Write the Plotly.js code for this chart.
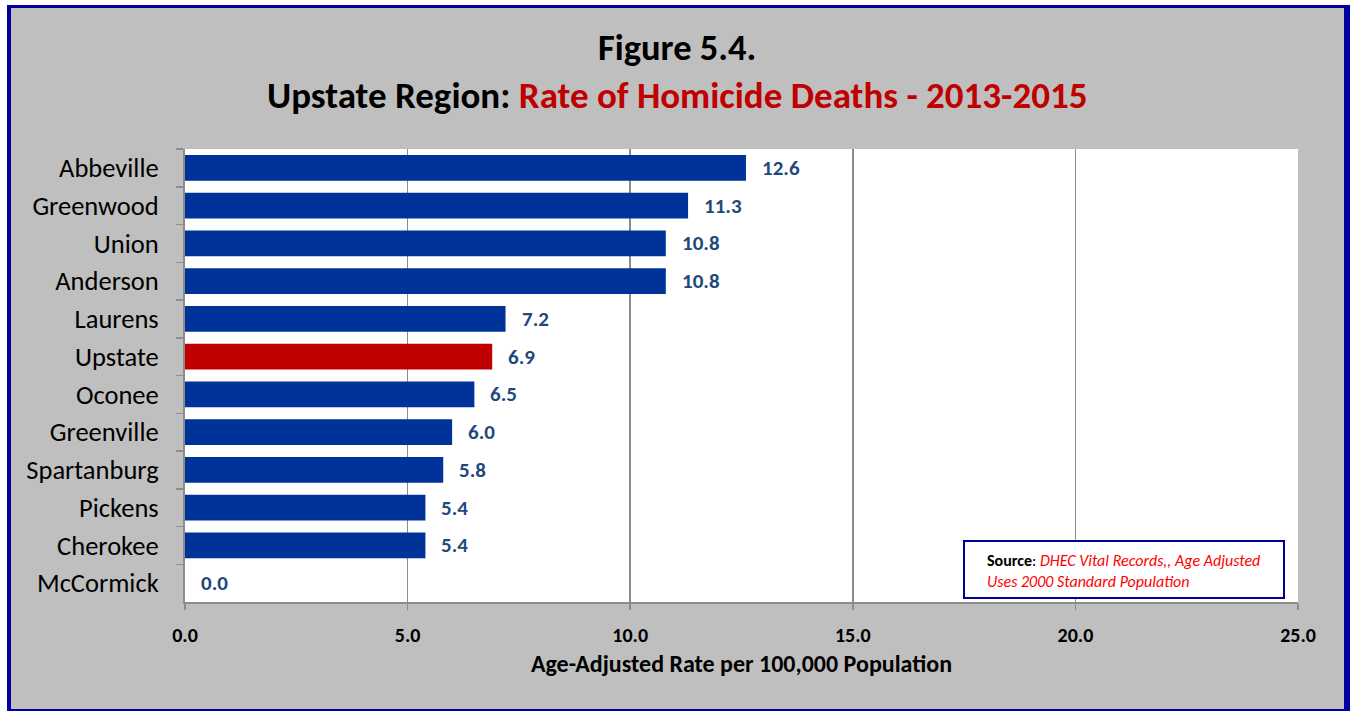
<!DOCTYPE html>
<html>
<head>
<meta charset="utf-8">
<script src="https://cdn.plot.ly/plotly-3.0.1.min.js"></script>
<style>
html,body{margin:0;padding:0;background:#ffffff;}
#wrap{position:relative;width:1354px;height:711px;overflow:hidden;}
#frame{position:absolute;left:7px;top:5px;width:1343px;height:706px;background:#BFBFBF;
  border-style:solid;border-color:#0000A0;border-width:3px 6px 2px 4px;box-sizing:border-box;}
#chart{position:absolute;left:0;top:0;width:1354px;height:711px;}
</style>
</head>
<body>
<div id="wrap"><div id="frame"></div><div id="chart"></div></div>
<script>
const categories = ["Abbeville","Greenwood","Union","Anderson","Laurens","Upstate","Oconee","Greenville","Spartanburg","Pickens","Cherokee","McCormick"];
const rates = [12.6, 11.3, 10.8, 10.8, 7.2, 6.9, 6.5, 6.0, 5.8, 5.4, 5.4, 0.0];
const xTicks = [0, 5, 10, 15, 20, 25];
const xTickLabels = ["0.0","5.0","10.0","15.0","20.0","25.0"];

const FONT = "Carlito, Calibri, Lato, 'Open Sans', sans-serif";
const ML = 185, MR = 56, MT = 149, MB = 109;
const PW = 1354 - ML - MR, PH = 711 - MT - MB;
const px = x => (x - ML) / PW;
const py = y => (711 - MB - y) / PH;

const barColors = categories.map(c => c === "Upstate" ? "#C00000" : "#003399");

const trace = {
  type: "bar",
  orientation: "h",
  y: categories,
  x: rates,
  marker: {color: barColors, line: {width: 0}},
  width: 0.68,
  hoverinfo: "x+y"
};

const valueAnnotations = categories.map((c, i) => ({
  x: rates[i], y: c, xref: "x", yref: "y",
  text: rates[i].toFixed(1),
  showarrow: false, xanchor: "left", yanchor: "middle", xshift: 14,
  font: {family: FONT, size: 21, color: "#1F497D", weight: "bold"}
}));

const layout = {
  width: 1354, height: 711,
  paper_bgcolor: "rgba(0,0,0,0)",
  plot_bgcolor: "#ffffff",
  margin: {l: ML, r: MR, t: MT, b: MB, pad: 0},
  showlegend: false,
  font: {family: FONT, color: "#000000"},
  xaxis: {
    range: [0, 25],
    tickvals: xTicks, ticktext: xTickLabels,
    showgrid: true, gridcolor: "#8C8C8C", gridwidth: 1.5,
    zeroline: false,
    showline: true, linecolor: "#8C8C8C", linewidth: 1.5,
    ticks: "outside", ticklen: 6, tickcolor: "#8C8C8C", tickwidth: 1.5,
    tickfont: {family: FONT, size: 20, color: "#000000", weight: "bold"},
    ticklabelstandoff: 8,
    title: {text: "Age-Adjusted Rate per 100,000 Population", standoff: 9,
            font: {family: FONT, size: 24, color: "#000000", weight: "bold"}},
    fixedrange: true
  },
  yaxis: {
    autorange: "reversed",
    type: "category",
    showgrid: false, zeroline: false,
    showline: true, linecolor: "#8C8C8C", linewidth: 2,
    ticks: "outside", tickson: "boundaries", ticklen: 7, tickcolor: "#8C8C8C", tickwidth: 1.5,
    tickfont: {family: FONT, size: 26.5, color: "#000000"},
    ticklabelstandoff: 19,
    fixedrange: true
  },
  bargap: 0.32,
  shapes: [
    {type: "rect", xref: "paper", yref: "paper",
     x0: px(964), x1: px(1284), y0: py(598), y1: py(541),
     line: {color: "#000099", width: 2}, fillcolor: "#ffffff", layer: "above"}
  ],
  annotations: [
    {xref: "paper", yref: "paper", x: px(677), y: py(48), xanchor: "center", yanchor: "middle",
     text: "Figure 5.4.", showarrow: false,
     font: {family: FONT, size: 36.5, color: "#000000", weight: "bold"}},
    {xref: "paper", yref: "paper", x: px(677), y: py(95), xanchor: "center", yanchor: "middle",
     text: "Upstate Region: <span style='color:#C00000'>Rate of Homicide Deaths - 2013-2015</span>", showarrow: false,
     font: {family: FONT, size: 37, color: "#000000", weight: "bold"}},
    {xref: "paper", yref: "paper", x: px(985), y: py(571), xanchor: "left", yanchor: "middle",
     align: "left", showarrow: false,
     text: "<b>Source</b>: <i><span style='color:#FF0000'>DHEC Vital Records,, Age Adjusted</span></i><br><i><span style='color:#FF0000'>Uses 2000 Standard Population</span></i>",
     font: {family: FONT, size: 16, color: "#000000"}}
  ].concat(valueAnnotations)
};

Plotly.newPlot("chart", [trace], layout, {displayModeBar: false, staticPlot: true});
</script>
</body>
</html>
